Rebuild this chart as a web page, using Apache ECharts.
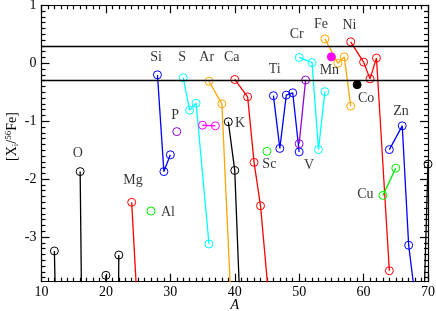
<!DOCTYPE html>
<html><head><meta charset="utf-8">
<script src="https://cdn.jsdelivr.net/npm/echarts@6/dist/echarts.min.js"></script>
<style>html,body{margin:0;padding:0;background:#fff}#c{width:436px;height:311px}</style>
</head><body><div id="c"></div>
<script>
const FONT = 'Liberation Serif';
const X_MIN = 10, X_MAX = 70, Y_MIN = -3.77, Y_MAX = 1;
const yTicks = [-3, -2, -1, 0, 1];
const refLines = [0.3, -0.3];

// isotope mass numbers (A) and [X_i/56Fe] values per element
const C_A  = [12, 13],             C_Y  = [-3.24, -8.5];
const O_A  = [16, 17],             O_Y  = [-1.87, -12];
const Ne_A = [20, 21, 22],         Ne_Y = [-3.66, -20, -3.31];
const Mg_A = [24, 25],             Mg_Y = [-2.40, -4.44];
const Al_A = [27],                 Al_Y = [-2.55];
const Si_A = [28, 29, 30],         Si_Y = [-0.20, -1.87, -1.58];
const P_A  = [31],                 P_Y  = [-1.18];
const S_A  = [32, 33, 34, 36],     S_Y  = [-0.25, -0.81, -0.69, -3.12];
const Cl_A = [35, 37],             Cl_Y = [-1.07, -1.08];
const Ar_A = [36, 38, 40],         Ar_Y = [-0.31, -0.70, -5.53];
const K_A  = [39, 40, 41],         K_Y  = [-1.01, -1.85, -4.72];
const Ca_A = [40, 42, 43, 44, 46], Ca_Y = [-0.28, -0.58, -1.71, -2.46, -4.94];
const Sc_A = [45],                 Sc_Y = [-1.52];
const Ti_A = [46, 47, 48, 49, 50], Ti_Y = [-0.56, -1.47, -0.55, -0.51, -1.53];
const V_A  = [50, 51],             V_Y  = [-1.39, -0.29];
const Cr_A = [50, 52, 53, 54],     Cr_Y = [0.10, 0.01, -1.49, -0.49];
const Mn_A = [55],                 Mn_Y = [0.11];
const Fe_A = [54, 56, 57, 58],     Fe_Y = [0.42, 0.00, 0.11, -0.74];
const Co_A = [59],                 Co_Y = [-0.37];
const Ni_A = [58, 60, 61, 62, 64], Ni_Y = [0.37, 0.02, -0.27, 0.09, -3.58];
const Cu_A = [63, 65],             Cu_Y = [-2.28, -1.81];
const Zn_A = [64, 66, 67, 68],     Zn_Y = [-1.49, -1.08, -3.14, -4.04];
const Ge_A = [69, 70],             Ge_Y = [-5.57, -1.74];

// element label names and their positions (data units)
const labelNames = ['O','Mg','Al','Si','P','S','Ar','Ca','K','Sc','Ti','V','Cr','Fe','Mn','Ni','Co','Cu','Zn'];
const labelA     = [15.62, 24.2, 29.64, 27.78, 30.73, 31.82, 35.65, 39.53, 40.82, 45.37, 46.21, 51.54, 49.63, 53.4, 54.69, 57.8, 60.39, 60.28, 65.82];
const labelY     = [-1.553, -2.02, -2.57, 0.10, -0.90, 0.10, 0.10, 0.10, -1.03, -1.75, -0.105, -1.755, 0.50, 0.676, -0.117, 0.66, -0.605, -2.26, -0.836];

const BLACK='#000000', RED='#ff0000', GREEN='#00ee00', BLUE='#0000ff', VIOLET='#9400d3', CYAN='#00ffff', MAGENTA='#ff00ff', ORANGE='#ffa500';

const elements = [
  ['C', C_A, C_Y, BLACK, false], ['O', O_A, O_Y, BLACK, false], ['Ne', Ne_A, Ne_Y, BLACK, false],
  ['Mg', Mg_A, Mg_Y, RED, false], ['Al', Al_A, Al_Y, GREEN, false], ['Si', Si_A, Si_Y, BLUE, false],
  ['P', P_A, P_Y, VIOLET, false], ['S', S_A, S_Y, CYAN, false], ['Cl', Cl_A, Cl_Y, MAGENTA, false],
  ['Ar', Ar_A, Ar_Y, ORANGE, false], ['K', K_A, K_Y, BLACK, false], ['Ca', Ca_A, Ca_Y, RED, false],
  ['Sc', Sc_A, Sc_Y, GREEN, false], ['Ti', Ti_A, Ti_Y, BLUE, false], ['V', V_A, V_Y, VIOLET, false],
  ['Cr', Cr_A, Cr_Y, CYAN, false], ['Mn', Mn_A, Mn_Y, MAGENTA, true], ['Fe', Fe_A, Fe_Y, ORANGE, false],
  ['Co', Co_A, Co_Y, BLACK, true], ['Ni', Ni_A, Ni_Y, RED, false], ['Cu', Cu_A, Cu_Y, GREEN, false],
  ['Zn', Zn_A, Zn_Y, BLUE, false], ['Ge', Ge_A, Ge_Y, BLACK, false]
];

const minorY = [];
for (let v = -37; v <= 10; v++) { if (v % 10 !== 0) minorY.push(v / 10); }

const axisLineStyle = { color: '#000', width: 1.2 };
const textBase = { fontFamily: FONT, fontSize: 14, color: '#000' };

const series = elements.map(([name, A, Y, color, filled]) => ({
  name, type: 'line', xAxisIndex: 0, yAxisIndex: 0,
  data: A.map((a, i) => [a, Y[i]]),
  clip: true, symbol: 'circle', symbolSize: 8, showSymbol: true,
  lineStyle: { color, width: 1.3 },
  itemStyle: filled ? { color, borderColor: color, borderWidth: 1 } : { color: 'rgba(0,0,0,0)', borderColor: color, borderWidth: 1 },
  emphasis: { disabled: true }, animation: false, z: 3
}));

series.push({
  type: 'line', data: [], xAxisIndex: 0, yAxisIndex: 0, animation: false,
  markLine: { silent: true, symbol: 'none', animation: false, label: { show: false },
    lineStyle: { color: '#000', width: 1.4, type: 'solid' },
    data: refLines.map(v => ({ yAxis: v })) }
});

series.push({
  type: 'scatter', xAxisIndex: 0, yAxisIndex: 0, symbolSize: 0, silent: true, animation: false,
  data: labelNames.map((n, i) => [labelA[i], labelY[i], n]),
  label: { show: true, position: 'inside', formatter: p => p.data[2], ...textBase, textBorderWidth: 0 },
  emphasis: { disabled: true },
  z: 5
});

const lineNoZero = { show: true, onZero: false, lineStyle: axisLineStyle };

const chart = echarts.init(document.getElementById('c'), null, { renderer: 'canvas' });
chart.setOption({
  animation: false,
  grid: { left: 41.5, right: 8, top: 5.3, bottom: 29.3, containLabel: false, outerBoundsMode: 'none' },
  xAxis: [
    { type: 'value', min: X_MIN, max: X_MAX, interval: 10, position: 'bottom',
      name: 'A', nameLocation: 'middle', nameGap: 17, nameMoveOverlap: false,
      nameTextStyle: { ...textBase, fontStyle: 'italic' },
      axisLine: lineNoZero,
      axisTick: { show: true, inside: true, length: 8, lineStyle: axisLineStyle },
      minorTick: { show: true, splitNumber: 10, length: 4, lineStyle: axisLineStyle },
      axisLabel: { ...textBase, margin: 4 },
      splitLine: { show: false }, minorSplitLine: { show: false } },
    { type: 'value', min: X_MIN, max: X_MAX, interval: 10, position: 'top',
      axisLine: lineNoZero,
      axisTick: { show: true, inside: true, length: 8, lineStyle: axisLineStyle },
      minorTick: { show: true, splitNumber: 10, length: 4, lineStyle: axisLineStyle },
      axisLabel: { show: false }, splitLine: { show: false } }
  ],
  yAxis: [
    { type: 'value', min: Y_MIN, max: Y_MAX, position: 'left',
      name: '[X{sub|i}/{sup|56}Fe]', nameLocation: 'middle', nameRotate: 90, nameGap: 21, nameMoveOverlap: false,
      nameTextStyle: { ...textBase, lineHeight: 16, padding: [0, 0, 0, 14], rich: {
        sub: { fontFamily: FONT, fontSize: 9, verticalAlign: 'bottom', lineHeight: 16 },
        sup: { fontFamily: FONT, fontSize: 9, verticalAlign: 'top', lineHeight: 16 } } },
      axisLine: lineNoZero,
      axisTick: { show: true, inside: true, length: 8, customValues: yTicks, lineStyle: axisLineStyle },
      axisLabel: { ...textBase, margin: 5, customValues: yTicks },
      splitLine: { show: false } },
    { type: 'value', min: Y_MIN, max: Y_MAX, position: 'left',
      axisLine: { show: false, onZero: false },
      axisTick: { show: true, inside: true, length: 4, customValues: minorY, lineStyle: axisLineStyle },
      axisLabel: { show: false }, splitLine: { show: false } },
    { type: 'value', min: Y_MIN, max: Y_MAX, position: 'right',
      axisLine: lineNoZero,
      axisTick: { show: true, inside: true, length: 8, customValues: yTicks, lineStyle: axisLineStyle },
      axisLabel: { show: false }, splitLine: { show: false } },
    { type: 'value', min: Y_MIN, max: Y_MAX, position: 'right',
      axisLine: { show: false, onZero: false },
      axisTick: { show: true, inside: true, length: 4, customValues: minorY, lineStyle: axisLineStyle },
      axisLabel: { show: false }, splitLine: { show: false } }
  ],
  series
});
</script></body></html>
